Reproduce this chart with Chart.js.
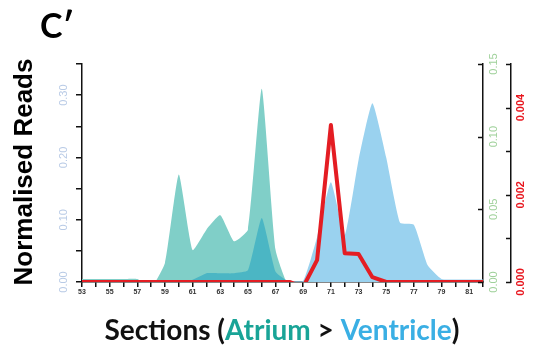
<!DOCTYPE html>
<html>
<head>
<meta charset="utf-8">
<script src="https://cdn.jsdelivr.net/npm/chart.js@4.4.0/dist/chart.umd.min.js"></script>
<style>
  html, body { margin: 0; padding: 0; background: #fff; }
  #wrap { position: relative; width: 535px; height: 347px; }
</style>
</head>
<body>
<div id="wrap"><canvas id="chart" width="535" height="347"></canvas></div>
<script>
// Sections along the heart (x axis)
const sections = [53, 54, 55, 56, 57, 58, 59, 60, 61, 62, 63, 64, 65, 66, 67, 68, 69, 70, 71, 72, 73, 74, 75, 76, 77, 78, 79, 80, 81, 82];

// Atrium reads (green right axis)
const atrium = [0.002, 0.002, 0.002, 0.002, 0.002, -0.004, 0.013, 0.074, 0.022, 0.036, 0.046, 0.028, 0.036, 0.133, 0.022, -0.004, 0, 0, 0, 0, 0, 0, 0, 0, 0, 0, 0, 0, 0, 0];
// Overlap of the two populations (green right axis)
const overlap = [0.001, 0.001, 0.001, 0.001, 0.001, 0.001, 0.001, 0.001, 0.0015, 0.006, 0.006, 0.006, 0.008, 0.044, 0.007, 0, 0, 0, 0, 0, 0, 0, 0, 0, 0, 0, 0, 0, 0, 0];
// Ventricle reads (left axis)
const ventricle = [0.002, 0.002, 0.002, 0.002, 0.002, 0.002, 0.002, 0.002, 0.002, 0.002, 0.002, 0.002, 0.002, 0.002, 0.002, 0.002, 0.002, 0.072, 0.16, 0.075, 0.196, 0.287, 0.2, 0.095, 0.092, 0.027, 0.005, 0.004, 0.004, 0.004];
// Marker gene (red axis)
const marker = [0, 0, 0, 0, 0, 0, 0, 0, 0, 0, 0, 0, 0, 0, 0, 0, -0.00011, 0.0005, 0.0036, 0.00066, 0.00064, 0.00011, 0, 0, 0, 0, 0, 0, 0, 0];

// Tick labels
const leftLabels = [0, 0.1, 0.2, 0.3];
const greenLabels = [0, 0.05, 0.1, 0.15];
const redLabels = [0, 0.002, 0.004];

const toPoints = vals => sections.map((s, i) => ({ x: s, y: vals[i] }));

// rotated tick labels + inward tick marks on the right axes
const axisDecor = {
    id: 'axisDecor',
    afterDraw(chart) {
        const ctx = chart.ctx;
        const drawLabels = (scale, values, x, digits, font, color) => {
            ctx.save();
            ctx.font = font;
            ctx.fillStyle = color;
            ctx.textAlign = 'center';
            ctx.textBaseline = 'middle';
            values.forEach(v => {
                const y = scale.getPixelForValue(v);
                ctx.save();
                ctx.translate(x, y);
                ctx.rotate(-Math.PI / 2);
                ctx.fillText(v.toFixed(digits), 0, 0);
                ctx.restore();
            });
            ctx.restore();
        };
        const drawTicks = (scale, x) => {
            ctx.save();
            ctx.strokeStyle = '#111';
            ctx.lineWidth = 1.5;
            scale.ticks.forEach(t => {
                const y = Math.round(scale.getPixelForValue(t.value)) + 0.5;
                ctx.beginPath();
                ctx.moveTo(x - 5, y);
                ctx.lineTo(x, y);
                ctx.stroke();
            });
            ctx.restore();
        };
        const s = chart.scales;
        drawTicks(s.y2, s.y2.left);
        drawTicks(s.y3, s.y3.left);
        drawLabels(s.y, leftLabels, 64, 2, '11px "Liberation Sans"', '#b9cbe6');
        drawLabels(s.y2, greenLabels, 494, 2, '11px "Liberation Sans"', '#9fd19a');
        drawLabels(s.y3, redLabels, 521, 3, 'bold 11px "Liberation Sans"', '#e8161e');

        // panel letter
        ctx.save();
        ctx.fillStyle = '#000';
        ctx.font = 'bold 34px Lato';
        ctx.textBaseline = 'alphabetic';
        ctx.fillText('C\u2032', 40, 38);
        ctx.restore();

        // y title
        ctx.save();
        ctx.fillStyle = '#000';
        ctx.font = 'bold 26px "Liberation Sans"';
        ctx.textAlign = 'center';
        ctx.textBaseline = 'middle';
        ctx.translate(25, 172);
        ctx.rotate(-Math.PI / 2);
        ctx.fillText('Normalised Reads', 0, 0);
        ctx.restore();

        // x title with coloured parts
        const parts = [['Sections (', '#111'], ['Atrium', '#19a497'], [' > ', '#111'], ['Ventricle', '#3aafe4'], [')', '#111']];
        ctx.save();
        ctx.font = 'bold 28px Lato';
        ctx.textBaseline = 'alphabetic';
        const total = parts.reduce((w, p) => w + ctx.measureText(p[0]).width, 0);
        let x = 282 - total / 2;
        parts.forEach(p => {
            ctx.fillStyle = p[1];
            ctx.fillText(p[0], x, 340);
            x += ctx.measureText(p[0]).width;
        });
        ctx.restore();
    }
};

const fixSize = (w, h) => scale => {
    if (w !== undefined) scale.width = w;
    if (h !== undefined) scale.height = h;
};

new Chart(document.getElementById('chart'), {
    type: 'line',
    data: {
        datasets: [
            {
                label: 'Ventricle',
                data: toPoints(ventricle),
                yAxisID: 'y',
                backgroundColor: '#9ad2ef',
                borderWidth: 0,
                fill: 'origin',
                tension: 0.15,
                pointRadius: 0,
                order: 4
            },
            {
                label: 'Atrium',
                data: toPoints(atrium),
                yAxisID: 'y2',
                backgroundColor: '#80cfc8',
                borderWidth: 0,
                fill: 'origin',
                tension: 0.15,
                pointRadius: 0,
                order: 3
            },
            {
                label: 'Overlap',
                data: toPoints(overlap),
                yAxisID: 'y2',
                backgroundColor: '#4bb6c4',
                borderWidth: 0,
                fill: 'origin',
                tension: 0.15,
                pointRadius: 0,
                order: 2
            },
            {
                label: 'Marker',
                data: toPoints(marker),
                yAxisID: 'y3',
                borderColor: '#e41d23',
                borderWidth: 4,
                borderJoinStyle: 'round',
                fill: false,
                tension: 0,
                pointRadius: 0,
                order: 1
            }
        ]
    },
    options: {
        responsive: false,
        animation: false,
        layout: { padding: { top: 64, left: 0, right: 0, bottom: 0 } },
        plugins: { legend: { display: false }, tooltip: { enabled: false } },
        scales: {
            x: {
                type: 'linear',
                min: 53,
                max: 82,
                afterFit: fixSize(undefined, 65),
                border: { display: true, color: '#111', width: 1.5 },
                grid: { drawOnChartArea: false, color: '#111', lineWidth: 1.5, tickLength: 5 },
                ticks: {
                    stepSize: 1,
                    autoSkip: false,
                    maxRotation: 0,
                    padding: 1,
                    color: '#333',
                    font: { family: 'Liberation Sans', size: 7, weight: 'bold' },
                    callback: v => (v % 2 === 1 && v < 82 ? String(v) : '')
                }
            },
            y: {
                position: 'left',
                min: 0,
                max: 0.35,
                afterFit: fixSize(82),
                border: { display: true, color: '#111', width: 1.5 },
                grid: { drawOnChartArea: false, color: '#111', lineWidth: 1.5, tickLength: 6 },
                ticks: { stepSize: 0.05, display: false }
            },
            y2: {
                position: 'right',
                min: 0,
                max: 0.15,
                afterFit: fixSize(28),
                border: { display: true, color: '#111', width: 1.5 },
                grid: { display: false },
                ticks: { stepSize: 0.05, display: false }
            },
            y3: {
                position: 'right',
                min: 0,
                max: 0.005,
                afterFit: fixSize(24),
                border: { display: true, color: '#111', width: 1.5 },
                grid: { display: false },
                ticks: { stepSize: 0.001, display: false }
            }
        }
    },
    plugins: [axisDecor]
});
</script>
</body>
</html>
